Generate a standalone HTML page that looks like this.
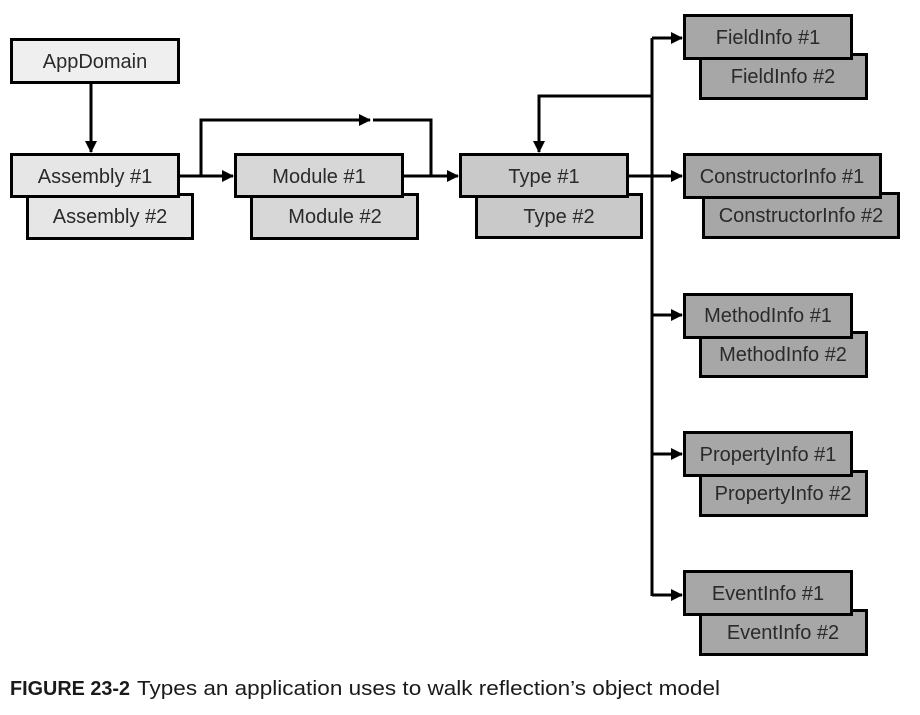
<!DOCTYPE html>
<html><head><meta charset="utf-8">
<style>
html,body{margin:0;padding:0;background:#fff;}
svg{display:block;}
text{font-family:"Liberation Sans",sans-serif;font-size:20px;fill:#2a2a2a;}
</style></head><body>
<svg width="920" height="715" viewBox="0 0 920 715" xmlns="http://www.w3.org/2000/svg">
<defs>
<marker id="a" markerWidth="12" markerHeight="12" refX="11" refY="6" orient="auto" markerUnits="userSpaceOnUse">
<path d="M0,0 L12,6 L0,12 z" fill="#000"/>
</marker>
</defs>
<g stroke="#000" stroke-width="3" fill="none">
<line x1="91" y1="84" x2="91" y2="152" marker-end="url(#a)"/>
<line x1="180" y1="176" x2="233" y2="176" marker-end="url(#a)"/>
<polyline points="201,176 201,120 370,120" marker-end="url(#a)"/>
<polyline points="373,120 431,120 431,176"/>
<line x1="404" y1="176" x2="458" y2="176" marker-end="url(#a)"/>
<line x1="629" y1="176" x2="682" y2="176" marker-end="url(#a)"/>
<line x1="652" y1="38" x2="652" y2="596"/>
<line x1="652" y1="38" x2="682" y2="38" marker-end="url(#a)"/>
<polyline points="652,96 539,96 539,152" marker-end="url(#a)"/>
<line x1="652" y1="315" x2="682" y2="315" marker-end="url(#a)"/>
<line x1="652" y1="454" x2="682" y2="454" marker-end="url(#a)"/>
<line x1="652" y1="595" x2="682" y2="595" marker-end="url(#a)"/>
</g>
<g stroke="#000" stroke-width="3">
<rect x="11.5" y="39.5" width="167" height="43" fill="#efefef"/>
<rect x="27.5" y="194.5" width="165" height="44" fill="#e6e6e6"/>
<rect x="11.5" y="154.5" width="167" height="42" fill="#e6e6e6"/>
<rect x="251.5" y="194.5" width="166" height="44" fill="#d7d7d7"/>
<rect x="235.5" y="154.5" width="167" height="42" fill="#d7d7d7"/>
<rect x="476.5" y="194.5" width="165" height="43" fill="#c9c9c9"/>
<rect x="460.5" y="154.5" width="167" height="42" fill="#c9c9c9"/>
<rect x="700.5" y="54.5" width="166" height="44" fill="#a7a7a7"/>
<rect x="684.5" y="15.5" width="167" height="43" fill="#a7a7a7"/>
<rect x="703.5" y="193.5" width="195" height="44" fill="#a7a7a7"/>
<rect x="684.5" y="154.5" width="196" height="43" fill="#a7a7a7"/>
<rect x="700.5" y="332.5" width="166" height="44" fill="#a7a7a7"/>
<rect x="684.5" y="294.5" width="167" height="43" fill="#a7a7a7"/>
<rect x="700.5" y="471.5" width="166" height="44" fill="#a7a7a7"/>
<rect x="684.5" y="432.5" width="167" height="43" fill="#a7a7a7"/>
<rect x="700.5" y="610.5" width="166" height="44" fill="#a7a7a7"/>
<rect x="684.5" y="571.5" width="167" height="43" fill="#a7a7a7"/>
</g>
<g text-anchor="middle">
<text x="95" y="68">AppDomain</text>
<text x="95" y="183">Assembly #1</text>
<text x="110" y="223">Assembly #2</text>
<text x="319" y="183">Module #1</text>
<text x="335" y="223">Module #2</text>
<text x="544" y="183">Type #1</text>
<text x="559" y="223">Type #2</text>
<text x="768" y="44">FieldInfo #1</text>
<text x="783" y="83">FieldInfo #2</text>
<text x="782" y="183">ConstructorInfo #1</text>
<text x="801" y="222">ConstructorInfo #2</text>
<text x="768" y="322">MethodInfo #1</text>
<text x="783" y="361">MethodInfo #2</text>
<text x="768" y="461">PropertyInfo #1</text>
<text x="783" y="500">PropertyInfo #2</text>
<text x="768" y="600">EventInfo #1</text>
<text x="783" y="639">EventInfo #2</text>
</g>
<text x="10" y="695" font-weight="bold" textLength="120" lengthAdjust="spacingAndGlyphs" style="font-size:20px;fill:#1a1a1a">FIGURE 23-2</text>
<text x="137" y="695" textLength="583" lengthAdjust="spacingAndGlyphs" style="font-size:20px;fill:#1a1a1a">Types an application uses to walk reflection’s object model</text>
</svg>
</body></html>
